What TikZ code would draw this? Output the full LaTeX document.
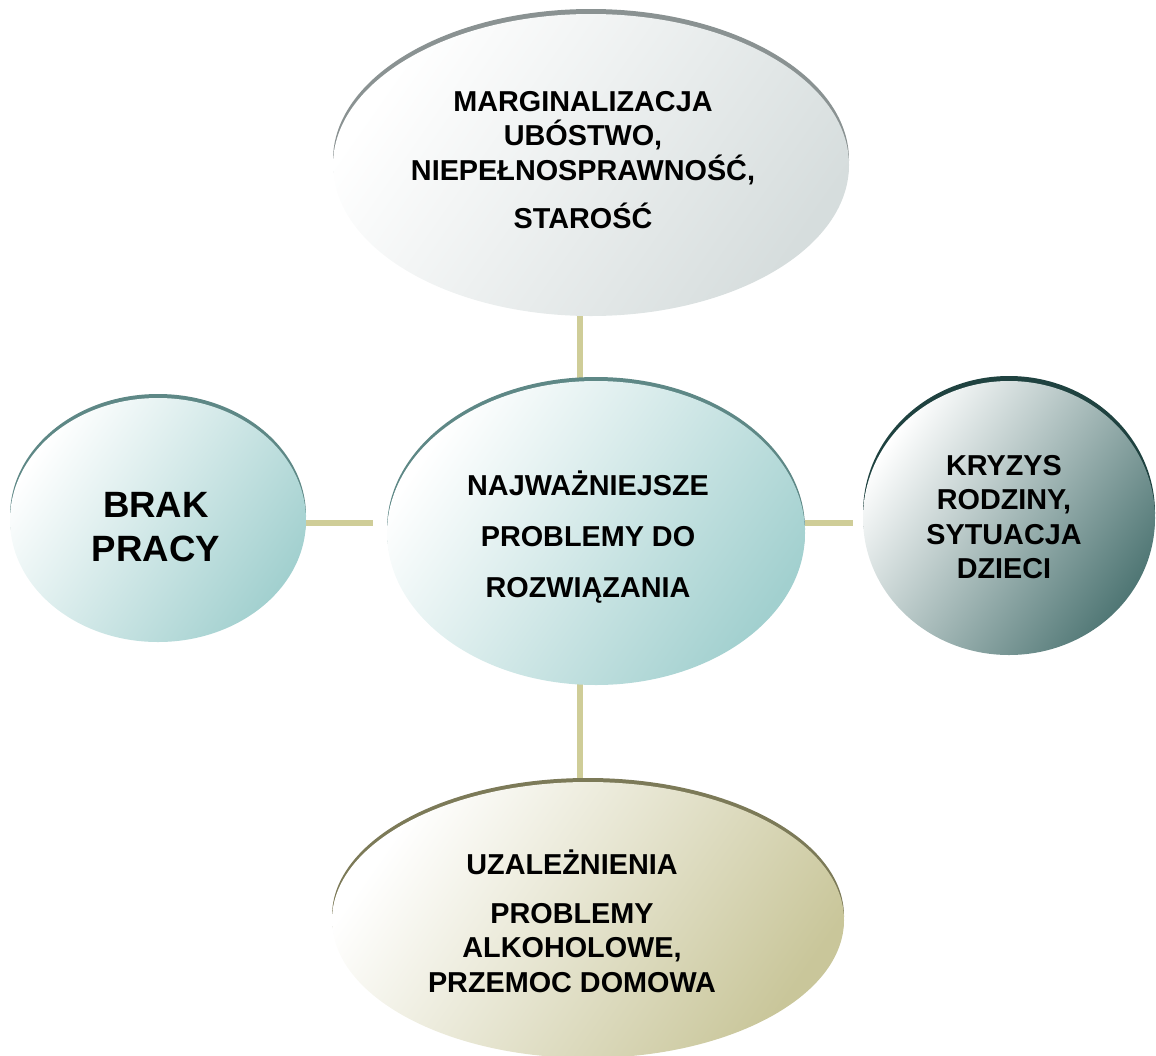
\documentclass[tikz,border=0pt]{standalone}
\usepackage{fontspec}
\setmainfont{Liberation Sans}
\usetikzlibrary{shapes.geometric}
\pgfdeclarelayer{background}
\pgfsetlayers{background,main}
\definecolor{conncol}{HTML}{CFCD98}
\definecolor{tealc}{HTML}{A2D0CF}
\definecolor{tealarc}{HTML}{5E8886}
\definecolor{grayc}{HTML}{D6DDDD}
\definecolor{grayarc}{HTML}{8A9292}
\definecolor{darkc}{HTML}{4F7674}
\definecolor{darkarc}{HTML}{1F4240}
\definecolor{olivec}{HTML}{C9C69A}
\definecolor{olivearc}{HTML}{7C7A58}
\tikzset{
  blob/.style n args={4}{ellipse, inner sep=0pt, draw=none,
    preaction={fill=#2, transform canvas={yshift=#4}},
    left color=white, middle color=#1!22!white, right color=#1, shading angle=#3},
  conn/.style={draw=conncol, line width=3pt},
  lbl/.style={align=center, font=\bfseries\fontsize{14.4pt}{17.2pt}\selectfont, inner sep=0pt},
  biglbl/.style={align=center, font=\bfseries\fontsize{18.3pt}{21.8pt}\selectfont, inner sep=0pt}
}
\begin{document}
\begin{tikzpicture}[x=0.5pt,y=-0.5pt]
\useasboundingbox (0,0) rectangle (1156,1055);
% ellipses
\node[blob={grayc}{grayarc}{55}{2.5pt}, minimum width=258pt, minimum height=151pt] (top) at (591,165) {};
\node[blob={tealc}{tealarc}{55}{2pt}, minimum width=209pt, minimum height=152pt] (mid) at (596,533) {};
\node[blob={tealc}{tealarc}{55}{2pt}, minimum width=148pt, minimum height=122pt] (left) at (158,520) {};
\node[blob={darkc}{darkarc}{55}{2.5pt}, minimum width=146pt, minimum height=137pt] (right) at (1009,518) {};
\node[blob={olivec}{olivearc}{55}{2pt}, minimum width=256pt, minimum height=138pt] (bot) at (588,920) {};
% connectors
\coordinate (vx) at (580,0);
\coordinate (lend) at (373,523);
\coordinate (rend) at (853,523);
\begin{pgfonlayer}{background}
\draw[conn] (top.center -| vx) -- (mid.center -| vx);
\draw[conn] (mid.center -| vx) -- (bot.center -| vx);
\end{pgfonlayer}
\draw[conn] (left.east |- lend) -- (lend);
\draw[conn] (mid.east |- rend) -- (rend);
% labels
\node[lbl] (ttop) at (583,160) {MARGINALIZACJA\\UBÓSTWO,\\NIEPEŁNOSPRAWNOŚĆ,\\[7pt]STAROŚĆ};
\node[lbl] (tmid) at (588,537) {NAJWAŻNIEJSZE\\[8.3pt]PROBLEMY DO\\[8.3pt]ROZWIĄZANIA};
\node[biglbl] (tleft) at (156,527) {BRAK\\PRACY};
\node[lbl] (tright) at (1004,517) {KRYZYS\\RODZINY,\\SYTUACJA\\DZIECI};
\node[lbl] (tbot) at (572,921) {UZALEŻNIENIA\\[7.3pt]PROBLEMY\\ALKOHOLOWE,\\PRZEMOC DOMOWA};
\end{tikzpicture}
\end{document}
